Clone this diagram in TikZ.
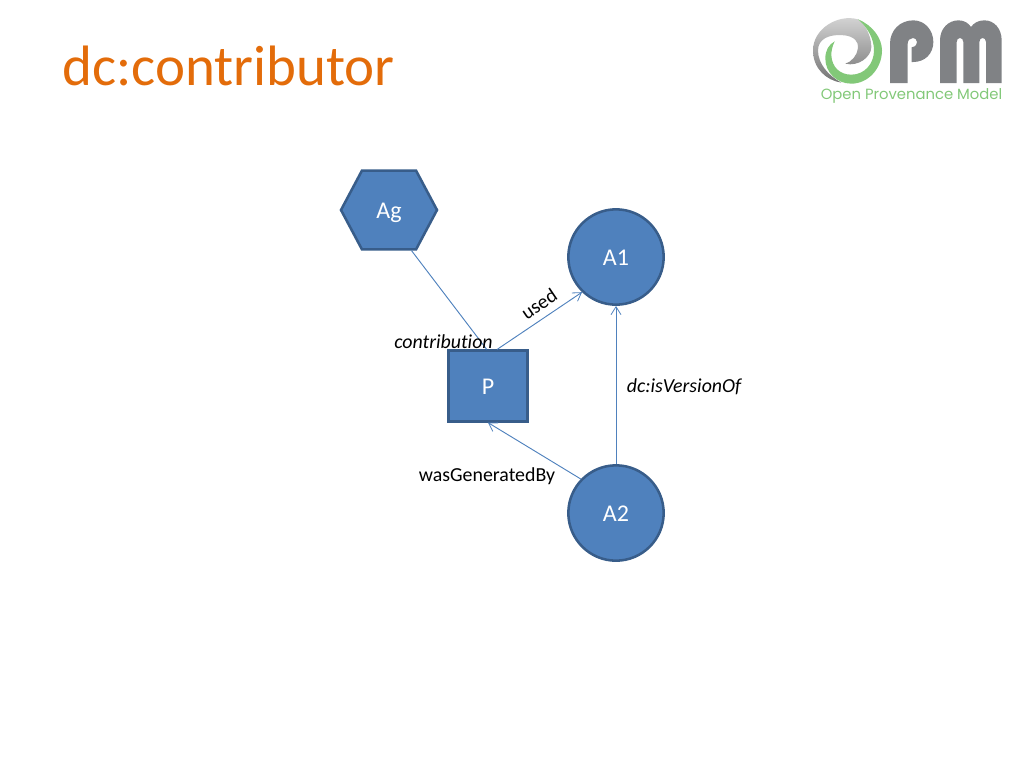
\documentclass[tikz,border=0pt]{standalone}
\usepackage{fontspec}
\setmainfont{Carlito}[Ligatures=NoCommon]
\newfontfamily\logofont{Poppins}
\usetikzlibrary{shapes.symbols,arrows.meta}
\definecolor{fillblue}{HTML}{4F81BD}
\definecolor{edgeblue}{HTML}{385D8A}
\definecolor{titleorange}{HTML}{E36C0A}
\definecolor{logogreen}{HTML}{82C878}
\definecolor{logogray}{HTML}{808285}
\tikzset{
  ent/.style={fill=fillblue,draw=edgeblue,line width=1.9pt,text=white,inner sep=0pt,text height=14pt,text depth=1.2pt,font=\fontsize{18}{20}\selectfont},
  artifact/.style={ent,circle,minimum size=71.5pt},
  proc/.style={ent,rectangle,minimum width=59pt,minimum height=53pt},
  agent/.style={ent,signal,signal to=east and west,signal pointer angle=124,minimum width=72pt,minimum height=59pt},
  link/.style={draw=fillblue,line width=0.7pt},
  arrowlink/.style={link,-{Straight Barb[length=6pt,width=7.5pt,line width=0.6pt]}},
  lab/.style={text=black,inner sep=0pt,font=\fontsize{14.9}{17}\selectfont},
  ilab/.style={lab,font=\fontsize{14.9}{17}\selectfont\itshape},
}
\begin{document}
\begin{tikzpicture}[x=0.75pt,y=-0.75pt]
\useasboundingbox (0,0) rectangle (1024,768);
\node[anchor=west,text=titleorange,inner sep=0pt,font=\fontsize{42.7}{48}\selectfont] (title) at (62,66) {dc:contributor};
\node[agent] (Ag) at (389,210) {Ag};
\node[artifact] (A1) at (616,257) {A1};
\node[proc] (P) at (488,386) {P};
\node[artifact] (A2) at (616,513) {A2};
\draw[link] (Ag.-61) -- (P.92);
\draw[arrowlink] (P.76) -- (A1.226);
\draw[arrowlink] (A2.136) -- (P.south);
\draw[arrowlink] (A2.north) -- (A1.south);
\node[ilab] (contrib) at (443.5,342) {contribution};
\node[lab,rotate=34] (used) at (539,304) {used};
\node[ilab] (version) at (684,387) {dc:isVersionOf};
\node[lab] (gen) at (487,476) {wasGeneratedBy};
% logo swirl
\begin{scope}[shift={(808,12)},x=0.25pt,y=-0.25pt]
\path[top color=gray!30,bottom color=gray!90!black]
 (150,22) .. controls (90,5) and (15,50) .. (15,115)
 .. controls (15,170) and (55,205) .. (100,212)
 .. controls (60,190) and (30,155) .. (30,115)
 .. controls (30,80) and (65,65) .. (110,70)
 .. controls (140,74) and (152,90) .. (150,108)
 .. controls (148,130) and (130,150) .. (112,155)
 .. controls (150,165) and (190,135) .. (190,105)
 .. controls (190,75) and (175,40) .. (150,22) -- cycle;
\fill[logogreen]
 (150,22) .. controls (195,40) and (222,80) .. (222,115)
 .. controls (222,170) and (180,215) .. (130,215)
 .. controls (85,215) and (52,180) .. (52,140)
 .. controls (52,115) and (62,98) .. (80,88)
 .. controls (72,105) and (70,118) .. (70,130)
 .. controls (72,165) and (95,188) .. (130,188)
 .. controls (170,188) and (198,155) .. (198,115)
 .. controls (198,80) and (178,45) .. (150,22) -- cycle;
\end{scope}
% logo letters
\begin{scope}[shift={(885,12)},x=0.25pt,y=-0.25pt]
\fill[logogray]
 (15,213) -- (15,95) .. controls (15,55) and (45,25) .. (85,25)
 .. controls (120,25) and (145,55) .. (145,90)
 .. controls (145,125) and (120,150) .. (85,150) -- (80,150) -- (80,106)
 .. controls (92,104) and (97,96) .. (96,90)
 .. controls (95,82) and (90,78) .. (84,78)
 .. controls (75,78) and (68,85) .. (68,95) -- (68,213) -- cycle;
\fill[logogray]
 (165,213) -- (165,85) .. controls (165,50) and (190,25) .. (220,25)
 .. controls (238,25) and (250,33) .. (258,45)
 .. controls (266,33) and (280,25) .. (298,25)
 .. controls (328,25) and (350,50) .. (350,85) -- (350,213) -- (303,213) -- (303,90)
 .. controls (303,82) and (298,78) .. (293,78)
 .. controls (288,78) and (283,82) .. (283,90) -- (283,213) -- (235,213) -- (235,90)
 .. controls (235,82) and (230,78) .. (225,78)
 .. controls (220,78) and (215,82) .. (215,90) -- (215,213) -- cycle;
\end{scope}
\node[text=logogreen,inner sep=0pt,font=\logofont\fontsize{11.1}{13}\selectfont] (logotext) at (911.5,96) {Open Provenance Model};
\end{tikzpicture}
\end{document}
